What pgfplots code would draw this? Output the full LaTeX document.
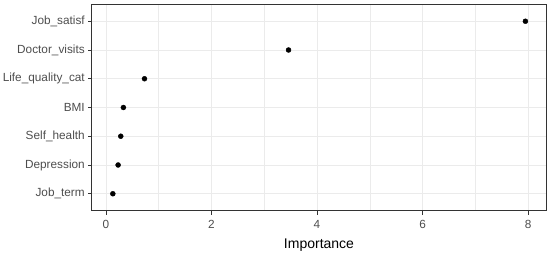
\documentclass[border=0pt]{standalone}
\usepackage{fontspec}
\setmainfont{Liberation Sans}
\usepackage{pgfplots}
\pgfplotsset{compat=1.18}
\usepackage{pgfplotstable}
\definecolor{gridc}{RGB}{235,235,235}
\definecolor{framec}{RGB}{51,51,51}
\definecolor{tickc}{RGB}{77,77,77}

% importance (x) vs variable position (y, 1 = bottom)
\pgfplotstableread{
imp   pos
0.13  1
0.23  2
0.28  3
0.33  4
0.73  5
3.46  6
7.95  7
}\imptab

\begin{document}
\begin{tikzpicture}
\begin{axis}[
    at={(0,0)}, anchor=south west,
    scale only axis,
    width=454pt, height=207pt,
    xmin=-0.265, xmax=8.34,
    ymin=0.4, ymax=7.6,
    xtick={0,2,4,6,8},
    minor xtick={1,3,5,7},
    ytick={1,...,7},
    yticklabels={Job\_term,Depression,Self\_health,BMI,Life\_quality\_cat,Doctor\_visits,Job\_satisf},
    grid=both,
    major grid style={gridc, line width=0.9pt},
    minor grid style={gridc, line width=0.5pt},
    axis line style={framec, line width=1pt},
    tick align=outside,
    major tick length=3.7pt,
    minor tick length=0pt,
    tick style={framec, line width=0.8pt},
    xtick pos=bottom, ytick pos=left,
    /pgf/number format/assume math mode=true,
    ticklabel style={font=\fontsize{11.8}{14}\selectfont, text=tickc},
    xticklabel style={yshift=-2pt},
    xlabel={Importance},
    xlabel style={font=\fontsize{14}{16}\selectfont, text=black, yshift=-3pt},
]
\addplot[only marks, mark=*, mark size=2.5pt, black] table[x=imp, y=pos] {\imptab};
\end{axis}
\pgfresetboundingbox
\path (-92pt,-45pt) rectangle (458pt,211pt);
\end{tikzpicture}
\end{document}
